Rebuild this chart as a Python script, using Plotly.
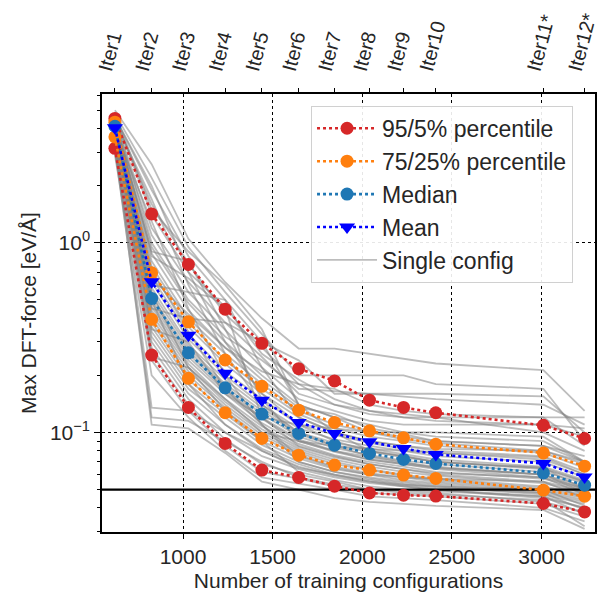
import plotly.graph_objects as go

# ---------------- data ----------------
iter_x = [620, 825, 1030, 1235, 1440, 1645, 1845, 2040, 2230, 2410, 3010, 3240]
iter_labels = ["Iter1", "Iter2", "Iter3", "Iter4", "Iter5", "Iter6", "Iter7",
               "Iter8", "Iter9", "Iter10", "Iter11*", "Iter12*"]

p95 = [4.53, 1.42, 0.769, 0.447, 0.295, 0.217, 0.187, 0.148, 0.1355, 0.127, 0.109, 0.0929]
p75 = [4.33, 0.695, 0.383, 0.241, 0.175, 0.131, 0.113, 0.102, 0.0937, 0.0867, 0.078, 0.0664]
median = [4.12, 0.509, 0.263, 0.172, 0.125, 0.0988, 0.0857, 0.0775, 0.0721, 0.0686, 0.0612, 0.0527]
mean = [4.04, 0.623, 0.326, 0.205, 0.148, 0.113, 0.0988, 0.0892, 0.0824, 0.0766, 0.0686, 0.0583]
p25 = [3.62, 0.395, 0.193, 0.127, 0.093, 0.0759, 0.0673, 0.0633, 0.0596, 0.0572, 0.0496, 0.0461]
p5 = [3.15, 0.256, 0.1355, 0.0875, 0.0633, 0.0579, 0.0521, 0.048, 0.0467, 0.0462, 0.0422, 0.0381]

threshold = 0.05

single_configs = [
    [5.0, 2.6, 1.05, 0.62, 0.40, 0.277, 0.277, 0.26, 0.245, 0.231, 0.213, 0.13],
    [4.8, 2.2, 0.95, 0.55, 0.33, 0.20, 0.20, 0.20, 0.20, 0.18, 0.17, 0.09],
    [4.6, 1.9, 0.85, 0.50, 0.30, 0.24, 0.16, 0.16, 0.16, 0.16, 0.155, 0.10],
    [4.4, 1.6, 0.78, 0.42, 0.28, 0.18, 0.17, 0.14, 0.13, 0.125, 0.12, 0.085],
    [4.7, 1.4, 0.70, 0.46, 0.26, 0.19, 0.15, 0.13, 0.12, 0.115, 0.11, 0.095],
    [4.5, 1.2, 0.62, 0.38, 0.25, 0.16, 0.14, 0.125, 0.12, 0.12, 0.12, 0.12],
    [4.3, 1.1, 0.55, 0.35, 0.22, 0.15, 0.13, 0.115, 0.11, 0.11, 0.11, 0.105],
    [4.2, 0.95, 0.48, 0.30, 0.20, 0.14, 0.12, 0.11, 0.10, 0.10, 0.095, 0.07],
    [4.4, 0.88, 0.44, 0.28, 0.19, 0.135, 0.125, 0.105, 0.098, 0.09, 0.085, 0.075],
    [4.1, 0.80, 0.40, 0.26, 0.18, 0.13, 0.11, 0.10, 0.092, 0.088, 0.08, 0.068],
    [4.3, 0.75, 0.38, 0.24, 0.17, 0.125, 0.105, 0.095, 0.09, 0.085, 0.078, 0.065],
    [4.0, 0.70, 0.36, 0.23, 0.16, 0.12, 0.10, 0.09, 0.085, 0.08, 0.075, 0.062],
    [4.2, 0.66, 0.33, 0.21, 0.15, 0.11, 0.097, 0.088, 0.082, 0.078, 0.072, 0.06],
    [3.9, 0.62, 0.31, 0.20, 0.14, 0.105, 0.092, 0.085, 0.08, 0.075, 0.07, 0.058],
    [4.1, 0.58, 0.29, 0.19, 0.135, 0.10, 0.088, 0.082, 0.077, 0.072, 0.066, 0.056],
    [4.0, 0.55, 0.28, 0.18, 0.13, 0.098, 0.085, 0.079, 0.074, 0.07, 0.064, 0.055],
    [4.2, 0.52, 0.27, 0.175, 0.125, 0.095, 0.083, 0.076, 0.071, 0.068, 0.062, 0.054],
    [3.8, 0.50, 0.26, 0.17, 0.12, 0.092, 0.08, 0.074, 0.069, 0.066, 0.06, 0.052],
    [4.3, 0.48, 0.25, 0.165, 0.118, 0.09, 0.079, 0.072, 0.068, 0.064, 0.058, 0.051],
    [4.1, 0.46, 0.24, 0.16, 0.112, 0.087, 0.076, 0.07, 0.066, 0.062, 0.057, 0.05],
    [3.7, 0.44, 0.23, 0.15, 0.108, 0.084, 0.074, 0.068, 0.064, 0.06, 0.055, 0.049],
    [4.0, 0.42, 0.22, 0.145, 0.104, 0.082, 0.072, 0.066, 0.062, 0.059, 0.054, 0.048],
    [3.6, 0.40, 0.21, 0.14, 0.10, 0.08, 0.07, 0.064, 0.06, 0.057, 0.052, 0.047],
    [3.9, 0.38, 0.20, 0.135, 0.097, 0.078, 0.068, 0.063, 0.059, 0.056, 0.051, 0.046],
    [3.5, 0.36, 0.19, 0.13, 0.094, 0.076, 0.066, 0.061, 0.058, 0.055, 0.05, 0.045],
    [3.7, 0.34, 0.18, 0.125, 0.09, 0.073, 0.064, 0.06, 0.056, 0.054, 0.049, 0.044],
    [3.4, 0.32, 0.17, 0.12, 0.086, 0.07, 0.062, 0.058, 0.055, 0.053, 0.048, 0.043],
    [3.6, 0.30, 0.16, 0.11, 0.082, 0.068, 0.06, 0.056, 0.053, 0.052, 0.047, 0.042],
    [3.3, 0.28, 0.15, 0.10, 0.075, 0.064, 0.058, 0.054, 0.052, 0.05, 0.045, 0.04],
    [3.2, 0.26, 0.14, 0.092, 0.068, 0.06, 0.055, 0.05, 0.049, 0.048, 0.043, 0.038],
    [3.0, 0.24, 0.13, 0.085, 0.062, 0.057, 0.052, 0.048, 0.047, 0.046, 0.042, 0.036],
    [2.9, 0.20, 0.12, 0.08, 0.058, 0.054, 0.05, 0.046, 0.045, 0.044, 0.04, 0.034],
    [3.1, 0.12, 0.115, 0.09, 0.07, 0.058, 0.053, 0.05, 0.048, 0.047, 0.044, 0.032],
    [3.3, 0.11, 0.105, 0.078, 0.055, 0.05, 0.045, 0.043, 0.042, 0.041, 0.039, 0.031],
    [3.5, 0.135, 0.13, 0.10, 0.08, 0.065, 0.06, 0.055, 0.052, 0.05, 0.046, 0.04],
    [4.6, 2.0, 0.70, 0.30, 0.16, 0.11, 0.09, 0.08, 0.075, 0.07, 0.065, 0.05],
    [4.4, 1.7, 0.60, 0.26, 0.14, 0.10, 0.085, 0.075, 0.07, 0.065, 0.06, 0.048],
    [4.5, 0.60, 0.55, 0.50, 0.22, 0.12, 0.10, 0.09, 0.085, 0.082, 0.08, 0.07],
    [4.2, 0.90, 0.80, 0.35, 0.15, 0.09, 0.08, 0.072, 0.068, 0.065, 0.06, 0.05],
    [3.8, 0.45, 0.40, 0.38, 0.30, 0.14, 0.10, 0.08, 0.075, 0.07, 0.065, 0.055],
    [4.0, 0.35, 0.30, 0.16, 0.12, 0.11, 0.105, 0.10, 0.10, 0.095, 0.09, 0.07],
    [4.3, 0.25, 0.22, 0.15, 0.10, 0.09, 0.085, 0.082, 0.08, 0.078, 0.074, 0.06],
    [3.9, 1.3, 0.45, 0.20, 0.11, 0.075, 0.065, 0.06, 0.058, 0.057, 0.055, 0.045],
    [4.6, 1.0, 0.50, 0.32, 0.24, 0.17, 0.165, 0.16, 0.155, 0.15, 0.14, 0.11],
    [4.1, 0.72, 0.34, 0.17, 0.11, 0.07, 0.062, 0.057, 0.054, 0.052, 0.05, 0.041],
    [3.6, 0.55, 0.22, 0.13, 0.09, 0.062, 0.056, 0.052, 0.05, 0.049, 0.046, 0.037],
    [4.8, 1.5, 0.90, 0.60, 0.35, 0.14, 0.12, 0.10, 0.095, 0.09, 0.085, 0.07],
    [4.4, 0.85, 0.65, 0.45, 0.12, 0.085, 0.075, 0.068, 0.064, 0.061, 0.058, 0.047],
    [3.4, 0.50, 0.18, 0.11, 0.08, 0.066, 0.059, 0.055, 0.053, 0.051, 0.048, 0.039],
    [4.2, 0.65, 0.42, 0.28, 0.21, 0.18, 0.14, 0.13, 0.125, 0.12, 0.10, 0.08],
]

x_range = [548, 3298]
y_log_range = [-1.525, 0.785]
x_ticks = [1000, 1500, 2000, 2500, 3000]
y_major = [0.1, 1]
y_major_text = ["10<sup>\u22121</sup>", "10<sup>0</sup>"]
y_minor = [0.03, 0.04, 0.05, 0.06, 0.07, 0.08, 0.09,
           0.2, 0.3, 0.4, 0.5, 0.6, 0.7, 0.8, 0.9, 2, 3, 4, 5, 6]

# ---------------- figure ----------------
TXT = "#262626"
FONT = "Liberation Sans, Arial, sans-serif"
RED, ORANGE, TEAL, BLUE = "#d62728", "#ff7f0e", "#1f77b4", "#0000ff"

fig = go.Figure()

for i, cfg in enumerate(single_configs):
    fig.add_trace(go.Scatter(
        x=iter_x, y=cfg, mode="lines",
        line=dict(color="rgba(128,128,128,0.52)", width=1.8),
        name="Single config", legendgroup="single", legendrank=5,
        showlegend=(i == 0), hoverinfo="skip"))

# threshold line
fig.add_trace(go.Scatter(x=x_range, y=[threshold, threshold], mode="lines",
                         line=dict(color="black", width=2.2),
                         showlegend=False, hoverinfo="skip"))

def stat(y, color, name, group, rank, show, symbol="circle", size=13):
    fig.add_trace(go.Scatter(
        x=iter_x, y=y, mode="lines+markers", name=name,
        legendgroup=group, legendrank=rank, showlegend=show,
        line=dict(color=color, width=2.6, dash="dot"),
        marker=dict(color=color, size=size, symbol=symbol, line=dict(width=0))))

stat(p95, RED, "95/5% percentile", "p95", 1, True)
stat(p5, RED, "95/5% percentile", "p95", 1, False)
stat(p75, ORANGE, "75/25% percentile", "p75", 2, True)
stat(p25, ORANGE, "75/25% percentile", "p75", 2, False)
stat(median, TEAL, "Median", "med", 3, True)
stat(mean, BLUE, "Mean", "mean", 4, True, symbol="triangle-down", size=14)

# dummy trace on top axis
fig.add_trace(go.Scatter(x=[iter_x[0]], y=[p95[0]], xaxis="x2", mode="markers",
                         marker=dict(opacity=0), showlegend=False, hoverinfo="skip"))

fig.update_layout(
    width=600, height=595,
    margin=dict(l=102, r=3, t=94, b=63),
    paper_bgcolor="white", plot_bgcolor="white",
    font=dict(family=FONT, color=TXT, size=21),
    xaxis=dict(
        range=x_range, tickmode="array", tickvals=x_ticks,
        showgrid=True, gridcolor="black", griddash="dot", gridwidth=1.3,
        showline=True, linecolor="black", linewidth=1.5, mirror=True,
        ticks="outside", ticklen=5, tickcolor="black",
        tickfont=dict(size=21, color=TXT), zeroline=False,
        title=dict(text="Number of training configurations", font=dict(size=21, color=TXT), standoff=6),
    ),
    xaxis2=dict(
        overlaying="x", side="top", range=x_range,
        tickmode="array", tickvals=iter_x, ticktext=iter_labels, tickangle=-75,
        ticks="outside", ticklen=5, tickcolor="black", showgrid=False, zeroline=False,
        showline=False, tickfont=dict(size=20, color=TXT), ticklabeloverflow="allow",
        ticklabelshift=-13, automargin=False,
    ),
    yaxis=dict(
        type="log", range=y_log_range, tickmode="array",
        tickvals=y_major, ticktext=y_major_text,
        showgrid=True, gridcolor="black", griddash="dot", gridwidth=1.3,
        showline=True, linecolor="black", linewidth=1.5, mirror=True,
        ticks="outside", ticklen=6, tickcolor="black", zeroline=False,
        tickfont=dict(size=21, color=TXT),
        minor=dict(tickmode="array", tickvals=y_minor, ticks="outside",
                   ticklen=3.5, tickcolor="black", showgrid=False),
        title=dict(text="Max DFT-force [eV/\u00c5]", font=dict(size=21, color=TXT), standoff=8),
    ),
    legend=dict(
        x=0.424, y=0.973, xanchor="left", yanchor="top",
        bgcolor="rgba(255,255,255,0.9)", bordercolor="#d0d0d0", borderwidth=1,
        font=dict(size=23, color=TXT), itemwidth=60, tracegroupgap=0,
    ),
)

fig.write_html("out.html", config={"displayModeBar": False},
               post_script="document.body.style.margin='0';document.body.style.padding='0';")
